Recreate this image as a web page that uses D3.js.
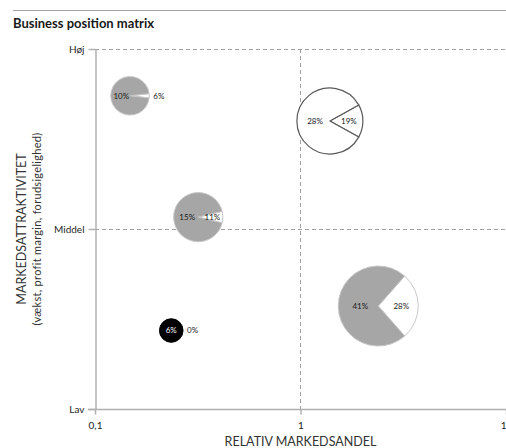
<!DOCTYPE html>
<html>
<head>
<meta charset="utf-8">
<script src="https://cdn.jsdelivr.net/npm/d3@7"></script>
<style>
  body { margin: 0; background: #fff; }
  svg { display: block; font-family: Lato, "Open Sans", sans-serif; }
</style>
</head>
<body>
<svg id="chart" width="506" height="448"></svg>
<script>
// relative market share (x, log) and market attractiveness (y: 0 lav, 1 middel, 2 høj)
const share = [0.148, 1.39, 0.318, 2.39, 0.235]
const attract = [1.74, 1.60, 1.066, 0.572, 0.436]
const mainPct = [10, 28, 15, 41, 6]
const wedgePct = [6, 19, 11, 28, 0]
const wedgeFrac = [0.036, 0.162, 0.075, 0.27, 0]
const kind = ['gray', 'outline', 'gray', 'gray', 'black']
const yTickLabels = ['Lav', 'Middel', 'Høj']
const xTicks = [0.1, 1, 10]
const xTickLabels = ['0,1', '1', '10']

const width = 506, height = 448
const margin = {top: 49, right: 0, bottom: 39, left: 95}
const svg = d3.select('#chart')

const x = d3.scaleLog()
    .domain([0.1, 10])
    .range([margin.left, 506])
const y = d3.scaleLinear()
    .domain([0, 2])
    .range([height - margin.bottom, margin.top])
const r = d3.scaleSqrt()
    .domain([0, 69])
    .range([0, 40])

// top rule + title
svg.append('line')
    .attr('x1', 13).attr('x2', width).attr('y1', 10.5).attr('y2', 10.5)
    .attr('stroke', '#a6a6a6')
svg.append('text')
    .attr('x', 13).attr('y', 28)
    .attr('font-weight', 'bold').attr('font-size', 13)
    .attr('fill', '#1a1a1a')
    .text('Business position matrix')

// dashed gridlines
const grid = svg.append('g')
    .attr('stroke', '#a0a0a0')
    .attr('stroke-dasharray', '4,3')
grid.selectAll('line.h')
    .data([1, 2])
    .join('line')
    .attr('x1', x(0.1)).attr('x2', width)
    .attr('y1', d => Math.round(y(d)) + 0.5).attr('y2', d => Math.round(y(d)) + 0.5)
grid.append('line')
    .attr('x1', Math.round(x(1)) + 0.5).attr('x2', Math.round(x(1)) + 0.5)
    .attr('y1', y(2)).attr('y2', y(0))

// axes
const xAxis = g => g
    .attr('transform', `translate(0, ${Math.round(y(0)) + 0.5})`)
    .call(d3.axisBottom(x).tickValues(xTicks).tickFormat((d, i) => xTickLabels[i]).tickSize(5).tickPadding(7).tickSizeOuter(0))
    .call(g => g.select('.domain').attr('d', `M${x(0.1) - 7},0H${width}`))
const yAxis = g => g
    .attr('transform', `translate(${Math.round(x(0.1)) + 0.5}, 0)`)
    .call(d3.axisLeft(y).tickValues([0, 1, 2]).tickFormat(d => yTickLabels[d]).tickSize(7).tickPadding(4).tickSizeOuter(0))

svg.append('g').call(xAxis)
svg.append('g').call(yAxis)
svg.selectAll('.domain, .tick line').attr('stroke', '#b0b0b0').attr('stroke-width', 1.5)
svg.selectAll('.tick text')
    .attr('font-family', 'Lato, sans-serif')
    .attr('font-size', 10)
    .attr('fill', '#262626')

// axis titles
svg.append('text')
    .attr('x', x(1)).attr('y', 446)
    .attr('text-anchor', 'middle')
    .attr('font-size', 12.5)
    .attr('fill', '#333')
    .text('RELATIV MARKEDSANDEL')
const yt = svg.append('g')
    .attr('transform', `translate(0, ${y(1)}) rotate(-90)`)
    .attr('text-anchor', 'middle')
    .attr('fill', '#333')
yt.append('text')
    .attr('y', 26)
    .attr('font-size', 12.5)
    .text('MARKEDSATTRAKTIVITET')
yt.append('text')
    .attr('y', 41)
    .attr('font-size', 11)
    .attr('letter-spacing', 0.3)
    .text('(vækst, profit margin, forudsigelighed)')

// bubbles drawn as pies
const bubbles = share.map((s, i) => ({
    s, a: attract[i], main: mainPct[i], wedge: wedgePct[i],
    frac: wedgeFrac[i], kind: kind[i], rad: r(mainPct[i] + wedgePct[i])
}))

const colors = {
    gray: {main: '#a6a6a6', wedge: '#ffffff', stroke: '#c8c8c8', sw: 1, text: '#1a1a1a'},
    outline: {main: '#ffffff', wedge: '#ffffff', stroke: '#595959', sw: 1.2, text: '#1a1a1a'},
    black: {main: '#000000', wedge: '#ffffff', stroke: '#000000', sw: 1, text: '#ffffff'}
}

bubbles.forEach(b => {
    const c = colors[b.kind]
    const g = svg.append('g')
        .attr('transform', `translate(${x(b.s)}, ${y(b.a)})`)
    const start = Math.PI / 2 - b.frac * Math.PI
    const pie = d3.pie().sort(null)
        .startAngle(start).endAngle(start + 2 * Math.PI)
    const slices = pie([b.frac, 1 - b.frac])
    const arc = d3.arc().innerRadius(0).outerRadius(b.rad)
    const labelArc = d3.arc().innerRadius(0).outerRadius(b.rad * 1.0)

    g.selectAll('path')
        .data(slices)
        .join('path')
        .attr('d', arc)
        .attr('fill', (d, i) => i === 0 ? c.wedge : c.main)
        .attr('stroke', c.stroke)
        .attr('stroke-width', c.sw)
        .attr('stroke-linejoin', 'round')

    // main slice label
    const mainPos = b.frac === 0 ? [0, 0] : labelArc.centroid(slices[1]).map(v => v * 0.9)
    g.append('text')
        .attr('x', mainPos[0]).attr('y', mainPos[1])
        .attr('dy', '0.35em')
        .attr('text-anchor', 'middle')
        .attr('font-size', 8)
        .attr('fill', c.text)
        .text(b.main + '%')

    // wedge label: inside if there is room, otherwise just outside
    const inside = b.frac > 0.05
    const wedgePos = inside ? labelArc.centroid(slices[0]).map(v => v * 1.15) : [b.rad + 4, 0]
    g.append('text')
        .attr('x', wedgePos[0]).attr('y', wedgePos[1])
        .attr('dy', '0.35em')
        .attr('text-anchor', inside ? 'middle' : 'start')
        .attr('font-size', 8)
        .attr('fill', '#1a1a1a')
        .text(b.wedge + '%')
})
</script>
</body>
</html>
